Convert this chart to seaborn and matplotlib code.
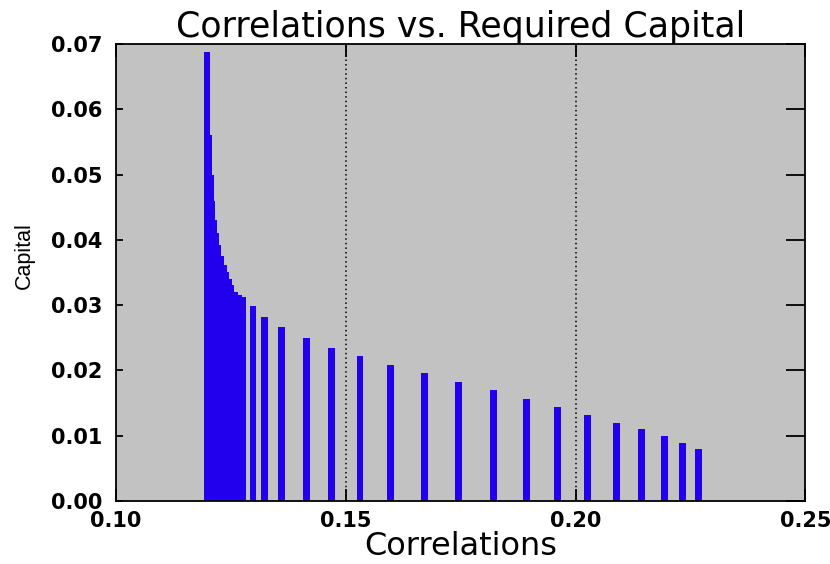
import numpy as np
import pandas as pd
import matplotlib
matplotlib.use("Agg")
import matplotlib.pyplot as plt
import seaborn as sns

# ---- data ----
correlations = [
    0.1198, 0.1202, 0.1205, 0.1208, 0.1212, 0.1217, 0.1222, 0.1227, 0.1233,
    0.1238, 0.1244, 0.1249, 0.1258, 0.1267, 0.1275,
    0.1298, 0.1324, 0.1361, 0.1414, 0.1468, 0.1531, 0.1597, 0.1671, 0.1746,
    0.1821, 0.1894, 0.1960, 0.2026, 0.2090, 0.2144, 0.2193, 0.2233, 0.2267,
]
capital = [
    0.0687, 0.0560, 0.0500, 0.0460, 0.0430, 0.0410, 0.0392, 0.0376, 0.0362,
    0.0350, 0.0340, 0.0331, 0.0320, 0.0316, 0.0313,
    0.0298, 0.0282, 0.0266, 0.0250, 0.0235, 0.0222, 0.0209, 0.0196, 0.0182,
    0.0170, 0.0157, 0.0144, 0.0132, 0.0120, 0.0110, 0.0099, 0.0089, 0.0080,
]
x_ticks = [0.10, 0.15, 0.20, 0.25]
x_tick_labels = ["0.10", "0.15", "0.20", "0.25"]
y_ticks = [0.00, 0.01, 0.02, 0.03, 0.04, 0.05, 0.06, 0.07]
y_tick_labels = ["0.00", "0.01", "0.02", "0.03", "0.04", "0.05", "0.06", "0.07"]
ref_lines = [0.15, 0.20]
title = "Correlations vs. Required Capital"
x_label = "Correlations"
y_label = "Capital"

df = pd.DataFrame({"Correlations": correlations, "Capital": capital})

sns.set_style("ticks")
plt.rcParams["font.family"] = ["DejaVu Sans"]
plt.rcParams["text.color"] = "black"
plt.rcParams["axes.labelcolor"] = "black"

fig = plt.figure(figsize=(8.3, 5.64), dpi=100)
ax = fig.add_axes([0.1398, 0.1117, 0.8304, 0.8103])
ax.set_facecolor("#c2c2c2")

bar_w = 0.0015
min_gap = np.diff(np.sort(np.array(correlations))).min()
sns.barplot(data=df, x="Correlations", y="Capital", native_scale=True,
            width=bar_w / min_gap, color="#2200ee", saturation=1,
            errorbar=None, linewidth=0, ax=ax)

for xv in ref_lines:
    ax.axvline(xv, color="black", ls=(0, (1, 2)), lw=1.1, zorder=3)

ax.set_xlim(0.10, 0.25)
ax.set_ylim(0.0, 0.07)
ax.set_xticks(x_ticks)
ax.set_xticklabels(x_tick_labels)
ax.set_yticks(y_ticks)
ax.set_yticklabels(y_tick_labels)
ax.tick_params(axis="both", direction="in", width=1.3, labelsize=15,
               colors="black")
ax.tick_params(axis="x", length=9, pad=7, top=True, bottom=True)
ax.tick_params(axis="y", length=5, pad=10, left=True, right=True)
for t in ax.yaxis.get_major_ticks():
    t.tick2line.set_markersize(14)
for lbl in ax.get_xticklabels() + ax.get_yticklabels():
    lbl.set_fontweight("bold")
for s in ax.spines.values():
    s.set_visible(True)
    s.set_color("black")
    s.set_linewidth(1.3)

ax.set_title(title, fontsize=25, pad=5, color="black")
ax.set_xlabel(x_label, fontsize=23, labelpad=0, color="black")
ax.set_ylabel(y_label, fontsize=15.5, color="black",
              fontfamily=["Liberation Sans", "DejaVu Sans"])
ax.yaxis.set_label_coords(-0.118, 0.536)

fig.savefig("out.png", dpi=100)
